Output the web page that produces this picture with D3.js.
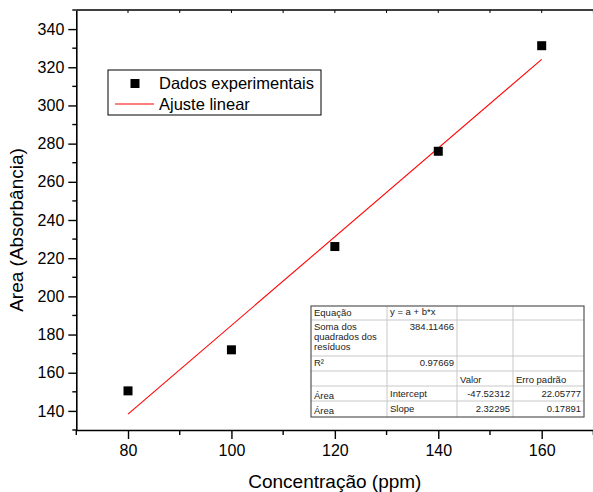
<!DOCTYPE html>
<html>
<head>
<meta charset="utf-8">
<script src="https://cdn.jsdelivr.net/npm/d3@7"></script>
<style>
  html, body { margin: 0; padding: 0; background: #fff; }
  svg { display: block; font-family: "Liberation Sans", Arial, sans-serif; }
</style>
</head>
<body>
<svg id="chart" width="593" height="492"></svg>
<script>
// Measured concentrations and peak areas
const concentracao = [80, 100, 120, 140, 160];
const area = [150.5, 172.0, 226.1, 276.0, 331.3];

// Linear fit results (as reported in the table)
const fitIntercept = [-47.52312, 22.05777];
const fitSlope = [2.32295, 0.17891];
const fitSSR = [384.11466];
const fitR2 = [0.97669];

const xTicks = [80, 100, 120, 140, 160];
const yTicks = [140, 160, 180, 200, 220, 240, 260, 280, 300, 320, 340];

const svg = d3.select("#chart");
const mL = 76.3, mR = 593.4, mT = 10, mB = 430;

const x = d3.scaleLinear().domain([70, 170]).range([mL, mR]);
const y = d3.scaleLinear().domain([130, 350]).range([mB, mT]);

// Frame line along the top (right edge falls outside the canvas)
svg.append("line").attr("x1", mL).attr("x2", 593).attr("y1", mT).attr("y2", mT)
  .attr("stroke", "#000").attr("stroke-width", 1.6);

// Top axis inward ticks
const topTicks = d3.range(80, 171, 10);
svg.append("g").selectAll("line").data(topTicks).join("line")
  .attr("x1", d => x(d)).attr("x2", d => x(d))
  .attr("y1", mT).attr("y2", mT + 3)
  .attr("stroke", "#000").attr("stroke-width", 1);

// Bottom axis
const xAxis = d3.axisBottom(x).tickValues(xTicks).tickFormat(d3.format("d"))
  .tickSizeInner(9).tickSizeOuter(0).tickPadding(6);
const gx = svg.append("g").attr("transform", `translate(0,${mB})`).call(xAxis);
gx.select(".domain").attr("stroke-width", 1.6);
gx.selectAll(".tick line").attr("stroke-width", 1.4);
gx.selectAll("text").attr("font-size", 16).attr("font-family", "Liberation Sans, Arial, sans-serif").attr("fill", "#000");
gx.append("g").selectAll("line").data([70, 90, 110, 130, 150, 170]).join("line")
  .attr("x1", d => x(d)).attr("x2", d => x(d)).attr("y1", 0).attr("y2", 5)
  .attr("stroke", "#000").attr("stroke-width", 1.4);

// Left axis
const yAxis = d3.axisLeft(y).tickValues(yTicks).tickFormat(d3.format("d"))
  .tickSizeInner(8).tickSizeOuter(0).tickPadding(4);
const gy = svg.append("g").attr("transform", `translate(${mL},0)`).call(yAxis);
gy.select(".domain").attr("stroke-width", 1.6);
gy.selectAll(".tick line").attr("stroke-width", 1.4);
gy.selectAll("text").attr("font-size", 16).attr("font-family", "Liberation Sans, Arial, sans-serif").attr("fill", "#000");
gy.append("g").selectAll("line").data(d3.range(130, 351, 20)).join("line")
  .attr("x1", 0).attr("x2", -4).attr("y1", d => y(d)).attr("y2", d => y(d))
  .attr("stroke", "#000").attr("stroke-width", 1.4);

// Axis titles
svg.append("text").attr("x", (mL + mR) / 2).attr("y", 488)
  .attr("text-anchor", "middle").attr("font-size", 19).text("Concentração (ppm)");
svg.append("text").attr("transform", "translate(23,230) rotate(-90)")
  .attr("text-anchor", "middle").attr("font-size", 19).text("Area (Absorbância)");

// Fitted line
const fitY = c => fitIntercept[0] + fitSlope[0] * c;
const xExt = d3.extent(concentracao);
svg.append("line")
  .attr("x1", x(xExt[0])).attr("y1", y(fitY(xExt[0])))
  .attr("x2", x(xExt[1])).attr("y2", y(fitY(xExt[1])))
  .attr("stroke", "#ff0000").attr("stroke-width", 1.1);

// Data points
const sq = 9;
svg.append("g").selectAll("rect").data(concentracao).join("rect")
  .attr("x", (d) => x(d) - sq / 2)
  .attr("y", (d, i) => y(area[i]) - sq / 2)
  .attr("width", sq).attr("height", sq).attr("fill", "#000");

// Legend
const lg = svg.append("g");
lg.append("rect").attr("x", 108).attr("y", 70).attr("width", 213).attr("height", 45)
  .attr("fill", "#fff").attr("stroke", "#000").attr("stroke-width", 1);
lg.append("rect").attr("x", 135 - 4.5).attr("y", 83.5 - 4.5).attr("width", 9).attr("height", 9).attr("fill", "#000");
lg.append("line").attr("x1", 115).attr("x2", 154).attr("y1", 104).attr("y2", 104)
  .attr("stroke", "#ff0000").attr("stroke-width", 1.1);
lg.append("text").attr("x", 159).attr("y", 89).attr("font-size", 16.5).text("Dados experimentais");
lg.append("text").attr("x", 159).attr("y", 110).attr("font-size", 16.5).text("Ajuste linear");

// Regression table
const tx = [311, 387, 457, 513, 584];
const ty = [306, 320, 356, 371, 386, 401, 417];
const tbl = svg.append("g").attr("font-size", 9.5).attr("fill", "#222");
tbl.append("rect").attr("x", tx[0]).attr("y", ty[0]).attr("width", tx[4] - tx[0]).attr("height", ty[6] - ty[0])
  .attr("fill", "#fff").attr("stroke", "none");
tx.slice(1, 4).forEach(v => tbl.append("line").attr("x1", v).attr("x2", v).attr("y1", ty[0]).attr("y2", ty[6])
  .attr("stroke", "#c8c8c8").attr("stroke-width", 1));
ty.slice(1, 6).forEach(v => tbl.append("line").attr("x1", tx[0]).attr("x2", tx[4]).attr("y1", v).attr("y2", v)
  .attr("stroke", "#c8c8c8").attr("stroke-width", 1));
tbl.append("rect").attr("x", tx[0]).attr("y", ty[0]).attr("width", tx[4] - tx[0]).attr("height", ty[6] - ty[0])
  .attr("fill", "none").attr("stroke", "#555").attr("stroke-width", 1.2);

const cellL = (col, row, txt, dy = 0) => tbl.append("text").attr("x", tx[col] + 3)
  .attr("y", ty[row] + 10 + dy).text(txt);
const cellR = (col, row, txt, dy = 0) => tbl.append("text").attr("x", tx[col + 1] - 3)
  .attr("y", ty[row] + 10 + dy).attr("text-anchor", "end").text(txt);

cellL(0, 0, "Equação");
cellL(1, 0, "y = a + b*x", -1);
cellL(0, 1, "Soma dos");
cellL(0, 1, "quadrados dos", 10);
cellL(0, 1, "resíduos", 20);
cellR(1, 1, fitSSR[0].toFixed(5));
cellL(0, 2, "R²");
cellR(1, 2, fitR2[0].toFixed(5));
cellL(2, 3, "Valor", 2);
cellL(3, 3, "Erro padrão", 2);
cellL(0, 4, "Área", 3);
cellL(1, 4, "Intercept", 1);
cellR(2, 4, fitIntercept[0].toFixed(5), 1);
cellR(3, 4, fitIntercept[1].toFixed(5), 1);
cellL(0, 5, "Área", 3);
cellL(1, 5, "Slope", 1);
cellR(2, 5, fitSlope[0].toFixed(5), 1);
cellR(3, 5, fitSlope[1].toFixed(5), 1);
</script>
</body>
</html>
